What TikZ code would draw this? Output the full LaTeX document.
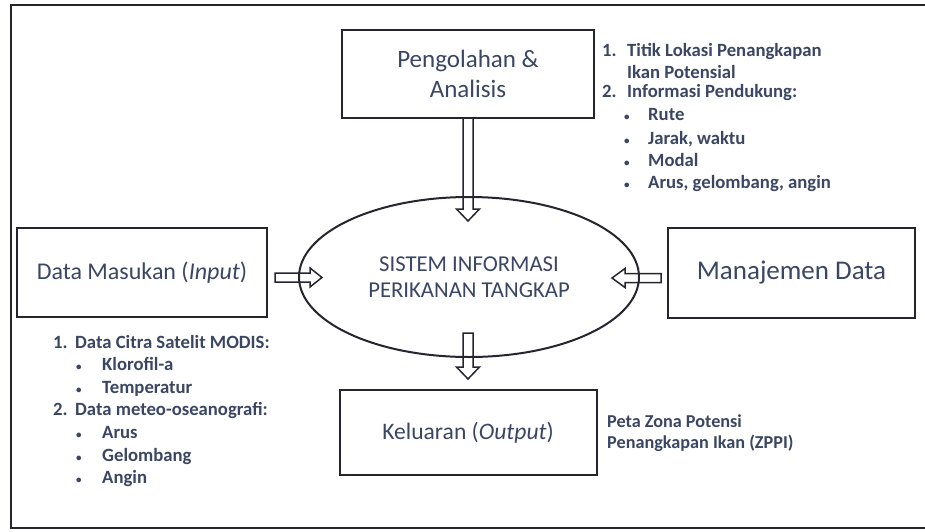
\documentclass[tikz,border=0pt]{standalone}
\usepackage{fontspec}
\setmainfont{Carlito}
\usetikzlibrary{calc,shapes.geometric}
\definecolor{txt}{HTML}{3A4663}
\definecolor{ln}{HTML}{25252F}
\newcommand{\smbul}{{\fontsize{11}{11}\selectfont\textbullet}}
\begin{document}
\begin{tikzpicture}[x=1pt,y=-1pt,
  box/.style={draw=ln,line width=2pt,text=txt,align=center,inner sep=0pt},
  hol/.style={draw=ln,line width=1.5pt,line join=miter},
  lst/.style={anchor=base west,inner sep=0pt,text=txt,font=\fontsize{18.7}{22}\selectfont\bfseries},
  ]
\useasboundingbox (0,0) rectangle (925,532);
\fill[white] (0,0) rectangle (925,532);
% outer frame (open on the right, as in the scan)
\draw[ln,line width=2.5pt] (925,5) -- (11,5) -- (11,528) -- (925,528);

% boxes
\node[box,minimum width=252,minimum height=88,font=\fontsize{25}{30}\selectfont] (pa) at (468,74)
  {Pengolahan \&\\Analisis};
\node[box,minimum width=250,minimum height=89,font=\fontsize{24}{28}\selectfont] (in) at (142,272.5)
  {Data Masukan (\textit{Input})};
\node[box,minimum width=247,minimum height=90,font=\fontsize{27}{30}\selectfont] (mg) at (791.5,273)
  {Manajemen Data};
\node[box,minimum width=257,minimum height=85,font=\fontsize{23.6}{28}\selectfont] (out) at (468,432.5)
  {Keluaran (\textit{Output})};
\node[ellipse,draw=ln,line width=2pt,minimum width=340,minimum height=160,inner sep=0pt,
  text=txt,align=center,font=\fontsize{22.7}{26}\selectfont] (sys) at (469,277)
  {SISTEM INFORMASI\\PERIKANAN TANGKAP};

% hollow arrows
\coordinate (t1) at ($(pa.south |- sys.north)+(0,25)$);
\draw[hol] ($(pa.south)+(-5,0)$) -- ($(t1)+(-5,-12)$) -- ($(t1)+(-11.5,-12)$) -- (t1)
  -- ($(t1)+(11.5,-12)$) -- ($(t1)+(5,-12)$) -- ($(pa.south)+(5,0)$);

\coordinate (s2) at ($(out.north |- sys.south)+(0,-25)$);
\coordinate (t2) at ($(out.north)+(0,-10)$);
\draw[hol] ($(s2)+(-5,0)$) -- ($(t2)+(-5,-12)$) -- ($(t2)+(-11.5,-12)$) -- (t2)
  -- ($(t2)+(11.5,-12)$) -- ($(t2)+(5,-12)$) -- ($(s2)+(5,0)$) -- cycle;

\coordinate (s3) at ($(in.east)+(7,5)$);
\coordinate (t3) at ($(sys.west |- s3)+(24,0)$);
\draw[hol] ($(s3)+(0,-4.5)$) -- ($(t3)+(-12,-4.5)$) -- ($(t3)+(-12,-9.5)$) -- (t3)
  -- ($(t3)+(-12,9.5)$) -- ($(t3)+(-12,4.5)$) -- ($(s3)+(0,4.5)$) -- cycle;

\coordinate (s4) at ($(mg.west)+(-6,5)$);
\coordinate (t4) at ($(sys.east |- s4)+(-28,0)$);
\draw[hol] ($(s4)+(0,-4.5)$) -- ($(t4)+(13,-4.5)$) -- ($(t4)+(13,-9.5)$) -- (t4)
  -- ($(t4)+(13,9.5)$) -- ($(t4)+(13,4.5)$) -- ($(s4)+(0,4.5)$) -- cycle;

% list: processing results
\node[lst] (tr1) at (602,57) {\makebox[25pt][l]{1.}Titik Lokasi Penangkapan};
\node[lst] (tr2) at (627,79) {Ikan Potensial};
\node[lst] (tr3) at (602,98) {\makebox[25pt][l]{2.}Informasi Pendukung:};
\node[lst] (tr4) at (624,121) {\makebox[24pt][l]{\smbul}Rute};
\node[lst] (tr5) at (624,144) {\makebox[24pt][l]{\smbul}Jarak, waktu};
\node[lst] (tr6) at (624,166) {\makebox[24pt][l]{\smbul}Modal};
\node[lst] (tr7) at (624,188) {\makebox[24pt][l]{\smbul}Arus, gelombang, angin};

% list: input data
\node[lst] (lf1) at (53,348) {\makebox[22pt][l]{1.}Data Citra Satelit MODIS:};
\node[lst] (lf2) at (76,370) {\makebox[26pt][l]{\smbul}Klorofil-a};
\node[lst] (lf3) at (76,393) {\makebox[26pt][l]{\smbul}Temperatur};
\node[lst] (lf4) at (53,415) {\makebox[22pt][l]{2.}Data meteo-oseanografi:};
\node[lst] (lf5) at (76,438) {\makebox[26pt][l]{\smbul}Arus};
\node[lst] (lf6) at (76,461) {\makebox[26pt][l]{\smbul}Gelombang};
\node[lst] (lf7) at (76,483) {\makebox[26pt][l]{\smbul}Angin};

% output description
\node[lst,font=\fontsize{18.2}{22}\selectfont\bfseries] (o1) at (607,427) {Peta Zona Potensi};
\node[lst,font=\fontsize{18.2}{22}\selectfont\bfseries] (o2) at (607,448) {Penangkapan Ikan (ZPPI)};
\end{tikzpicture}
\end{document}
